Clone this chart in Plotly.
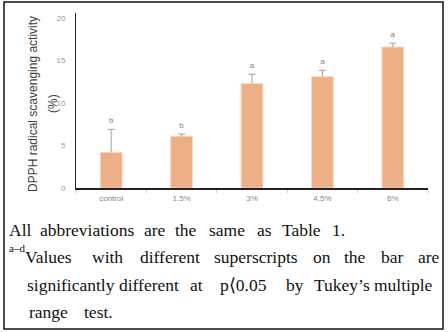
import plotly.graph_objects as go

categories = ["control", "1.5%", "3%", "4.5%", "6%"]
values = [4.2, 6.1, 12.3, 13.1, 16.6]
errors = [2.7, 0.25, 1.1, 0.75, 0.45]
letters = ["b", "b", "a", "a", "a"]
y_ticks = [0, 5, 10, 15, 20]

W, H = 448, 332
ML, MR, MT, MB = 76, 20, 13, 144
PW, PH = W - ML - MR, H - MT - MB


def px(x):
    return (x - ML) / PW


def py(y):
    return (H - MB - y) / PH


tops = [v + e for v, e in zip(values, errors)]

fig = go.Figure()
fig.add_trace(go.Bar(
    x=categories, y=values,
    marker=dict(color="#EDB086", line=dict(color="#F7D9C4", width=1)),
    error_y=dict(type="data", array=errors, arrayminus=[0] * 5, symmetric=False,
                 color="#A0A0A0", thickness=1, width=0),
    hoverinfo="skip", showlegend=False,
))
fig.add_trace(go.Scatter(
    x=categories, y=tops, mode="markers+text",
    marker=dict(symbol="line-ew", size=5, line=dict(color="#A0A0A0", width=1)),
    text=letters, textposition="top center",
    textfont=dict(family="Liberation Sans", size=8, color="#808080"),
    hoverinfo="skip", showlegend=False,
))

fig.update_layout(
    width=W, height=H,
    margin=dict(l=ML, r=MR, t=MT, b=MB),
    paper_bgcolor="white", plot_bgcolor="white",
    bargap=0.69,
    font=dict(family="Liberation Sans"),
    xaxis=dict(
        showline=True, linecolor="#222222", linewidth=1.5,
        ticks="outside", tickson="boundaries", ticklen=3, tickcolor="#D0D0D0",
        tickfont=dict(size=8, color="#888888"), showgrid=False,
        ticklabelstandoff=2,
    ),
    yaxis=dict(
        range=[0, 20.6], tickvals=y_ticks, showgrid=False, zeroline=False,
        showline=True, linecolor="#222222", linewidth=1,
        tickfont=dict(size=8, color="#999999"), ticks="",
        ticklabelstandoff=8,
    ),
)

anns = []
anns.append(dict(text="DPPH radical scavenging activity", x=px(33), y=py(104), textangle=-90,
                 font=dict(family="Liberation Sans", size=12, color="#404040")))
anns.append(dict(text="(%)", x=px(53), y=py(104), textangle=-90,
                 font=dict(family="Liberation Sans", size=12, color="#404040")))

serif = dict(family="Liberation Serif", size=17.5, color="#111111")
anns.append(dict(text="a\u2013d", x=px(7), y=py(248), xanchor="left",
                 font=dict(family="Liberation Serif", size=11, color="#111111")))
line1 = [("All", 7), ("abbreviations", 38), ("are", 142), ("the", 173), ("same", 207),
         ("as", 255), ("Table", 280), ("1.", 330)]
line2 = [("Values", 23), ("with", 90), ("different", 138), ("superscripts", 212),
         ("on", 311), ("the", 342), ("bar", 379), ("are", 416)]
line3 = [("significantly", 25), ("different", 117), ("at", 188), ("p\u27e80.05", 218),
         ("by", 284), ("Tukey\u2019s", 312), ("multiple", 372)]
line4 = [("range", 27), ("test.", 82)]
for words, yc in ((line1, 230), (line2, 257), (line3, 285), (line4, 312)):
    for w, xl in words:
        anns.append(dict(text=w, x=px(xl), y=py(yc), xanchor="left", font=serif))

for a in anns:
    a.update(xref="paper", yref="paper", showarrow=False)
    a.setdefault("yanchor", "middle")
    a.setdefault("xanchor", "center")
fig.update_layout(annotations=anns)

fig.add_shape(type="rect", xref="paper", yref="paper",
              x0=px(4), x1=px(443), y0=py(329), y1=py(2),
              line=dict(color="#111111", width=1.5), fillcolor="rgba(0,0,0,0)")

fig.write_html("out.html")
